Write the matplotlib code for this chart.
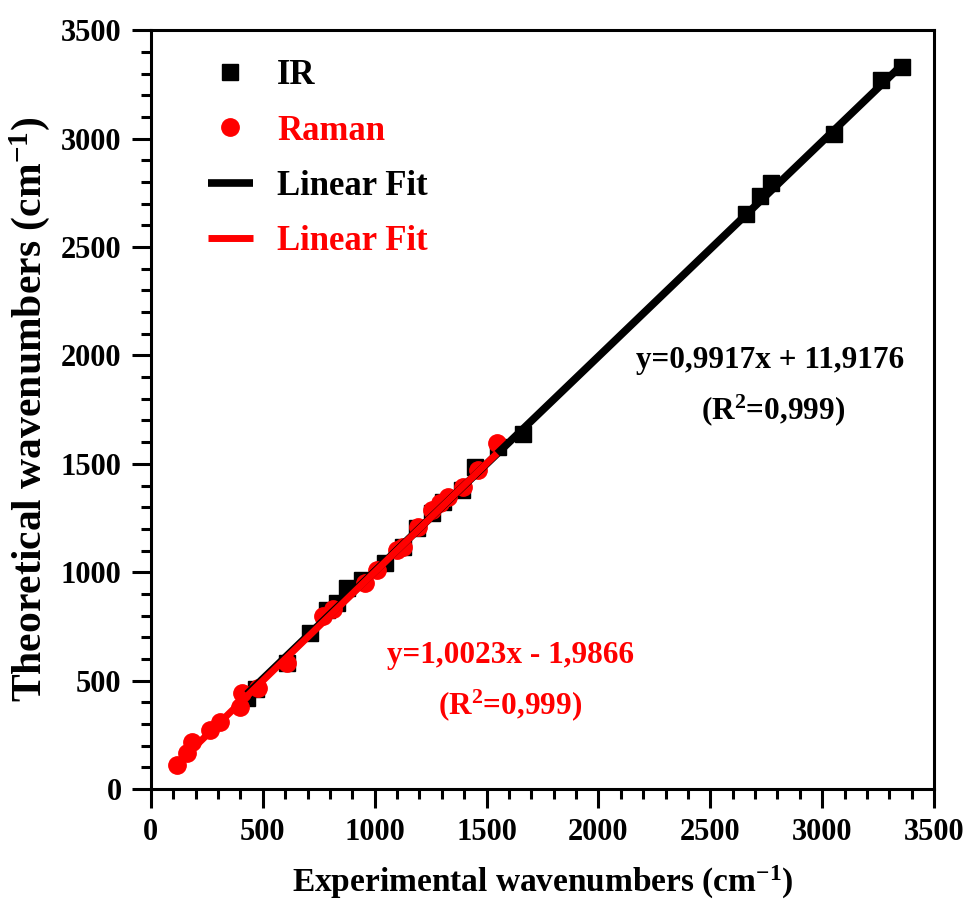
import numpy as np
import matplotlib
matplotlib.use("Agg")
import matplotlib.pyplot as plt

# IR data (experimental, theoretical)
ir_x = [430, 470, 608, 711, 787, 831, 876, 943, 1046, 1127, 1189, 1256, 1305,
        1390, 1448, 1551, 1663, 2660, 2722, 2771, 3053, 3263, 3357]
ir_y = [420, 460, 581, 719, 825, 857, 925, 964, 1042, 1116, 1203, 1272, 1323,
        1378, 1485, 1577, 1637, 2651, 2734, 2794, 3024, 3269, 3333]

# Raman data
ra_x = [116, 161, 183, 264, 308, 398, 407, 478, 608, 769, 814, 957, 1010,
        1100, 1127, 1194, 1256, 1292, 1328, 1395, 1462, 1547]
ra_y = [111, 166, 217, 272, 309, 378, 442, 466, 581, 800, 830, 950, 1010,
        1102, 1116, 1208, 1286, 1318, 1346, 1392, 1471, 1595]

ir_fit = (0.9917, 11.9176)
ra_fit = (1.0023, -1.9866)

plt.rcParams['font.family'] = ['Liberation Serif', 'DejaVu Serif']
plt.rcParams['font.weight'] = 'bold'
plt.rcParams['mathtext.default'] = 'regular'

fig = plt.figure(figsize=(9.67, 9.19), dpi=100)
ax = fig.add_axes([0.156, 0.1415, 0.81, 0.8255])

ax.plot(ir_x, ir_y, 's', color='black', ms=12, label='IR', zorder=2)
ax.plot(ra_x, ra_y, 'o', color='red', ms=12.5, label='Raman', zorder=3)

xi = np.array([min(ir_x), max(ir_x)])
ax.plot(xi, ir_fit[0] * xi + ir_fit[1], color='black', lw=5.5,
        label='Linear Fit', zorder=4, solid_capstyle='butt')
xr = np.array([min(ra_x), max(ra_x)])
ax.plot(xr, ra_fit[0] * xr + ra_fit[1], color='red', lw=5,
        label='Linear Fit', zorder=5, solid_capstyle='butt')

ax.set_xlim(0, 3500)
ax.set_ylim(0, 3500)
ax.set_xticks(np.arange(0, 3501, 500))
ax.set_yticks(np.arange(0, 3501, 500))
ax.set_xticks(np.arange(0, 3501, 100), minor=True)
ax.set_yticks(np.arange(0, 3501, 100), minor=True)
ax.tick_params(which='major', length=14, width=2.2, direction='out',
               labelsize=22, pad=7)
ax.tick_params(which='minor', length=7, width=2.2, direction='out')
for s in ax.spines.values():
    s.set_linewidth(2.2)

ax.set_xlabel('Experimental wavenumbers (cm$^{-1}$)', fontsize=24,
              fontweight='bold', labelpad=12)
ax.set_ylabel('Theoretical wavenumbers (cm$^{-1}$)', fontsize=30,
              fontweight='bold', labelpad=6)

leg = ax.legend(loc='upper left', bbox_to_anchor=(0.055, 0.98), frameon=False,
                fontsize=25, handlelength=1.3, handletextpad=0.7,
                labelspacing=0.64, borderaxespad=0)
for t, c in zip(leg.get_texts(), ['black', 'red', 'black', 'red']):
    t.set_color(c)

ax.text(2767, 1978, 'y=0,9917x + 11,9176', fontsize=22.5, ha='center',
        va='center', color='black')
ax.text(2780, 1747, '(R$^2$=0,999)', fontsize=22.5, ha='center',
        va='center', color='black')
ax.text(1605, 618, 'y=1,0023x - 1,9866', fontsize=22.5, ha='center',
        va='center', color='red')
ax.text(1605, 387, '(R$^2$=0,999)', fontsize=22.5, ha='center',
        va='center', color='red')

fig.savefig('out.png', dpi=100)
